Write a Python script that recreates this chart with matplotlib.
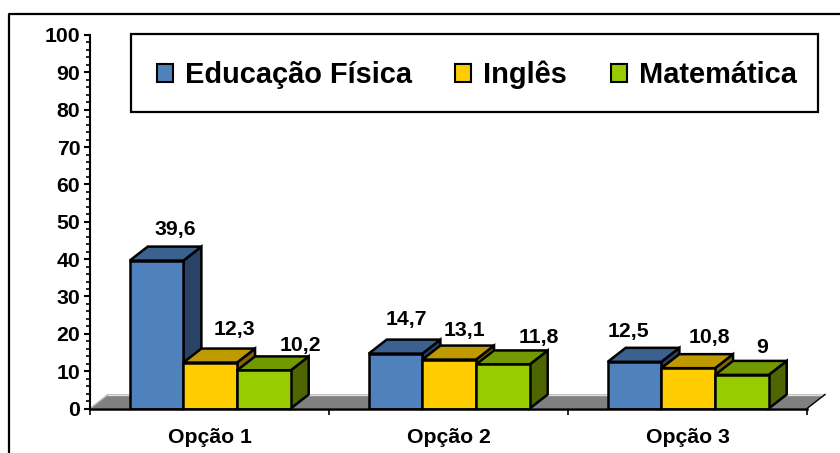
import matplotlib
matplotlib.use("Agg")
import matplotlib.pyplot as plt
from matplotlib.lines import Line2D
from matplotlib.patches import Polygon, Rectangle, Patch
from matplotlib.ticker import MultipleLocator, FixedLocator, NullFormatter

plt.rcParams['font.family'] = ['Liberation Sans', 'DejaVu Sans']
plt.rcParams['font.weight'] = 'bold'

categories = ['Opção 1', 'Opção 2', 'Opção 3']
series_names = ['Educação Física', 'Inglês', 'Matemática']
educacao = [39.6, 14.7, 12.5]
ingles = [12.3, 13.1, 10.8]
matematica = [10.2, 11.8, 9]
labels_edu = ['39,6', '14,7', '12,5']
labels_ing = ['12,3', '13,1', '10,8']
labels_mat = ['10,2', '11,8', '9']
front_colors = ['#4F81BD', '#FFCC00', '#99CC00']
top_colors = ['#3B6190', '#BF9900', '#739900']
side_colors = ['#294265', '#806600', '#4D6600']
# label nudges in pixels (right, down), per series and category
nudges = [[(1, 5), (-7, 2), (-24, 6)],
          [(6, 3), (-3, 7), (3, 6)],
          [(19, 11), (18, 9), (2, 9)]]

W, H = 840, 453
fig = plt.figure(figsize=(W / 100, H / 100), dpi=100, facecolor='white')
L, R, T, B = 90, 807, 35, 408.5
ax = fig.add_axes([L / W, 1 - B / H, (R - L) / W, (B - T) / H])
ax.set_xlim(0, 3)
ax.set_ylim(0, 100)
ax.patch.set_visible(False)

# outer frame: only top and left edges fall inside the picture
fig.add_artist(Line2D([9 / W, 9 / W, 1.01], [-0.02, 1 - 14 / H, 1 - 14 / H],
                      transform=fig.transFigure, color='black', lw=1.6))

dx_unit = 18 / ((R - L) / 3)
dy_unit = 14 / ((B - T) / 100)

# floor
ax.add_patch(Polygon([(0, 0), (dx_unit, dy_unit), (3 + dx_unit, dy_unit), (3, 0)],
                     closed=True, fc='#808080', ec='none', clip_on=False, zorder=1))
ax.plot([0, dx_unit], [0, dy_unit], color='#BBBBBB', lw=1, clip_on=False, zorder=1)
ax.plot([dx_unit, 3 + dx_unit], [dy_unit, dy_unit], color='#DDDDDD', lw=1, clip_on=False, zorder=1)
ax.plot([3, 3 + dx_unit], [0, dy_unit], color='black', lw=1, clip_on=False, zorder=1)

bar_w = 0.2245
lw = 1.8
all_vals = [educacao, ingles, matematica]
all_labels = [labels_edu, labels_ing, labels_mat]
z = 2
for g in range(len(categories)):
    for s in range(3):
        v = all_vals[s][g]
        x0 = g + 0.5 - 1.5 * bar_w + s * bar_w + 0.003
        x1 = x0 + bar_w
        ax.add_patch(Polygon([(x1, 0), (x1 + dx_unit, dy_unit), (x1 + dx_unit, v + dy_unit), (x1, v)],
                             closed=True, fc=side_colors[s], ec='black', lw=lw, zorder=z, clip_on=False))
        ax.add_patch(Polygon([(x0, v), (x0 + dx_unit, v + dy_unit), (x1 + dx_unit, v + dy_unit), (x1, v)],
                             closed=True, fc=top_colors[s], ec='black', lw=lw, zorder=z, clip_on=False))
        ax.bar(x0, v, width=bar_w, align='edge', color=front_colors[s], edgecolor='black', lw=lw, zorder=z)
        z += 1
        nx, ny = nudges[s][g]
        ax.annotate(all_labels[s][g], (x0 + bar_w / 2 + 18 / 239, v + dy_unit + 3.4),
                    xytext=(nx * 0.72, -ny * 0.72), textcoords='offset points',
                    ha='center', va='bottom', fontsize=15.3, fontweight='bold',
                    color='black', zorder=20)

# axes
for sp in ('top', 'right'):
    ax.spines[sp].set_visible(False)
ax.spines['left'].set_linewidth(1.5)
ax.spines['bottom'].set_linewidth(1.8)
ax.spines['left'].set_zorder(15)
ax.spines['bottom'].set_zorder(15)
ax.yaxis.set_major_locator(MultipleLocator(10))
ax.yaxis.set_minor_locator(MultipleLocator(2))
ax.tick_params(axis='y', which='major', length=4, width=1.5, labelsize=15.3, pad=3)
ax.tick_params(axis='y', which='minor', length=3, width=1.2)
ax.set_xticks([0, 1, 2, 3])
ax.xaxis.set_major_formatter(NullFormatter())
ax.xaxis.set_minor_locator(FixedLocator([0.5, 1.5, 2.5]))
ax.set_xticks([0.5, 1.5, 2.5], categories, minor=True)
ax.tick_params(axis='x', which='major', length=4, width=1.2)
ax.tick_params(axis='x', which='minor', length=0, labelsize=15.3, pad=14)
for t in ax.get_yticklabels() + ax.get_xticklabels(minor=True):
    t.set_fontweight('bold')

# legend box, wider on the left than the right as in the reference
fig.add_artist(Rectangle((131 / W, 1 - 112 / H), (818 - 131) / W, 78 / H,
                         transform=fig.transFigure, fc='white', ec='black', lw=1.6, zorder=25))
handles = [Patch(fc=c, ec='black', lw=1.5) for c in front_colors]
leg = fig.legend(handles, series_names, ncols=3, loc='center left',
                 bbox_to_anchor=(157 / W, 1 - 75 / H), bbox_transform=fig.transFigure,
                 prop={'size': 20.9, 'weight': 'bold'}, frameon=False, borderaxespad=0, borderpad=0,
                 handlelength=0.55, handleheight=0.55, handletextpad=0.41, columnspacing=1.5)
leg.set_zorder(30)

fig.savefig('out.png', dpi=100)
